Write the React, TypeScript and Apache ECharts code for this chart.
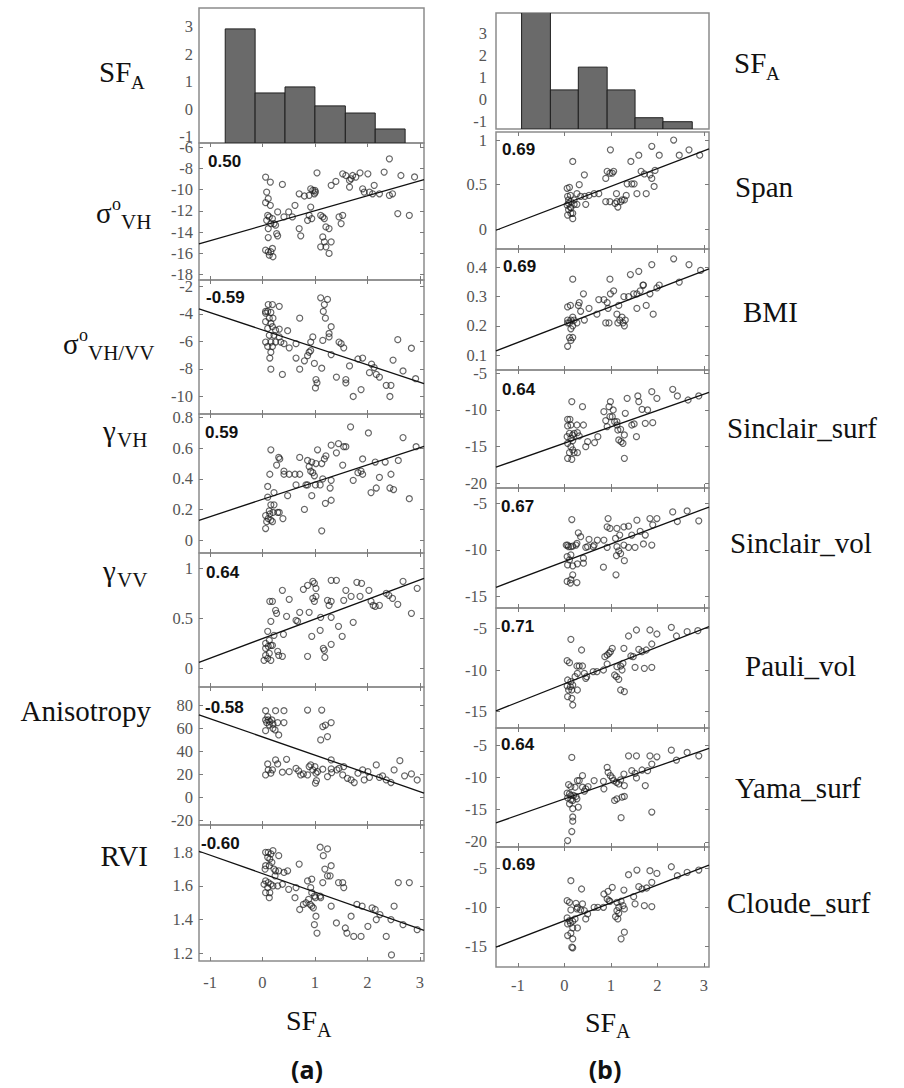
import React, { useEffect, useRef } from "react";
import * as echarts from "echarts";

// ---------- data ----------
const xTicks = [-1, 0, 1, 2, 3];
const histTicks = [-1, 0, 1, 2, 3];
// histogram bins: [x0, x1, top]
const histA = [[-0.71, -0.14, 2.93], [-0.14, 0.43, 0.6], [0.43, 1.0, 0.82], [1.0, 1.58, 0.13], [1.58, 2.15, -0.13], [2.15, 2.72, -0.71]];
const histB = [[-0.92, -0.3, 4.5], [-0.3, 0.3, 0.44], [0.3, 0.92, 1.47], [0.92, 1.52, 0.44], [1.52, 2.12, -0.82], [2.12, 2.75, -1.0]];

const sigmaVH = [[0.06,-8.81],[0.15,-9.28],[0.08,-10.22],[0.11,-10.84],[0.06,-11.22],[0.15,-11.47],[0.10,-12.41],[0.13,-12.56],[0.08,-12.88],[0.19,-12.72],[0.16,-13.19],[0.22,-13.19],[0.25,-13.34],[0.11,-13.66],[0.27,-14.13],[0.29,-14.34],[0.11,-14.5],[0.06,-15.69],[0.11,-15.84],[0.16,-15.84],[0.13,-16.16],[0.20,-16.31],[0.19,-15.53],[0.38,-9.5],[0.29,-12.09],[0.41,-12.56],[0.50,-12.09],[0.57,-12.56],[0.62,-11.47],[0.70,-13.66],[0.73,-14.34],[0.70,-10.38],[0.80,-10.59],[0.89,-10.53],[0.92,-9.91],[0.96,-10.06],[0.99,-10.38],[1.0,-10.06],[1.01,-10.22],[1.04,-8.41],[0.92,-11.63],[0.89,-12.41],[0.94,-12.72],[0.86,-12.88],[1.11,-12.41],[1.15,-12.56],[1.18,-12.72],[1.21,-13.5],[1.27,-13.66],[1.15,-14.44],[1.18,-14.91],[1.11,-15.38],[1.21,-15.38],[1.31,-14.91],[1.27,-16.0],[1.31,-9.59],[1.40,-9.22],[1.53,-8.5],[1.59,-8.66],[1.66,-9.13],[1.69,-8.97],[1.72,-8.66],[1.86,-8.41],[2.01,-8.5],[1.78,-8.81],[1.91,-9.91],[1.94,-10.22],[1.66,-9.75],[1.46,-12.56],[1.53,-12.41],[1.50,-13.19],[2.04,-10.22],[2.10,-10.38],[2.13,-9.59],[2.23,-10.38],[2.32,-8.34],[2.42,-7.09],[2.42,-10.53],[2.48,-10.38],[2.58,-12.25],[2.64,-8.66],[2.80,-12.41],[2.9,-8.8]];
const sigmaVHVV = [[0.06,-3.83],[0.11,-3.33],[0.19,-3.33],[0.32,-3.46],[0.06,-3.95],[0.10,-3.83],[0.16,-3.9],[0.13,-4.32],[0.20,-4.32],[0.06,-4.57],[0.16,-4.69],[0.10,-5.06],[0.19,-4.94],[0.25,-5.19],[0.32,-5.11],[0.48,-5.23],[0.13,-5.56],[0.22,-5.56],[0.32,-5.68],[0.06,-6.05],[0.16,-6.05],[0.25,-6.05],[0.35,-6.05],[0.41,-6.17],[0.10,-6.37],[0.19,-6.37],[0.16,-6.79],[0.14,-7.21],[0.16,-8.02],[0.38,-8.4],[0.51,-6.47],[0.64,-6.17],[0.71,-4.32],[0.64,-7.21],[0.71,-8.02],[0.80,-7.41],[0.86,-7.04],[0.89,-6.79],[0.92,-6.05],[0.96,-5.68],[0.92,-6.67],[0.99,-7.6],[1.13,-7.95],[1.01,-9.38],[1.04,-9.01],[1.02,-8.77],[1.11,-2.84],[1.18,-3.33],[1.24,-2.96],[1.16,-3.83],[1.20,-4.32],[1.31,-4.94],[1.27,-5.43],[1.27,-5.68],[1.15,-5.93],[1.31,-6.96],[1.41,-8.59],[1.46,-6.05],[1.50,-6.17],[1.55,-6.47],[1.59,-8.77],[1.59,-9.01],[1.66,-7.78],[1.73,-10.0],[1.82,-7.28],[1.91,-7.21],[1.88,-9.5],[2.04,-8.27],[2.08,-7.65],[2.13,-7.9],[2.17,-8.4],[2.23,-8.59],[2.36,-9.19],[2.45,-9.19],[2.43,-10.0],[2.49,-7.36],[2.58,-5.88],[2.68,-8.15],[2.84,-6.5],[2.92,-8.71]];
const gammaVH = [[0.06,0.075],[0.08,0.12],[0.11,0.14],[0.06,0.16],[0.14,0.17],[0.16,0.13],[0.19,0.12],[0.13,0.19],[0.16,0.23],[0.22,0.23],[0.20,0.18],[0.29,0.18],[0.32,0.18],[0.39,0.14],[0.10,0.28],[0.10,0.35],[0.14,0.43],[0.16,0.59],[0.31,0.54],[0.33,0.53],[0.27,0.49],[0.22,0.31],[0.41,0.45],[0.41,0.43],[0.51,0.43],[0.62,0.43],[0.71,0.43],[0.48,0.29],[0.64,0.36],[0.71,0.54],[0.80,0.2],[0.83,0.36],[0.86,0.52],[0.89,0.48],[0.94,0.51],[0.92,0.45],[0.96,0.44],[0.99,0.42],[1.01,0.36],[0.94,0.29],[0.86,0.36],[1.05,0.59],[1.02,0.50],[1.10,0.36],[1.13,0.50],[1.18,0.53],[1.21,0.55],[1.20,0.24],[1.31,0.26],[1.29,0.34],[1.31,0.39],[1.15,0.40],[1.13,0.06],[1.31,0.62],[1.41,0.57],[1.45,0.63],[1.55,0.61],[1.59,0.61],[1.53,0.49],[1.68,0.74],[1.73,0.39],[1.82,0.44],[1.88,0.45],[1.91,0.43],[1.91,0.53],[2.02,0.70],[2.07,0.31],[2.17,0.34],[2.23,0.41],[2.15,0.51],[2.34,0.51],[2.45,0.43],[2.43,0.34],[2.50,0.33],[2.59,0.52],[2.68,0.67],[2.80,0.27],[2.93,0.61]];
const gammaVV = [[0.03,0.08],[0.10,0.10],[0.16,0.08],[0.06,0.13],[0.13,0.15],[0.06,0.20],[0.11,0.22],[0.16,0.23],[0.06,0.25],[0.13,0.28],[0.19,0.23],[0.10,0.37],[0.22,0.33],[0.29,0.17],[0.31,0.13],[0.38,0.12],[0.40,0.34],[0.16,0.47],[0.19,0.67],[0.14,0.67],[0.25,0.58],[0.27,0.55],[0.38,0.78],[0.51,0.69],[0.46,0.52],[0.64,0.48],[0.67,0.47],[0.71,0.56],[0.78,0.79],[0.86,0.83],[0.96,0.87],[0.99,0.85],[1.02,0.80],[0.86,0.12],[0.89,0.56],[0.94,0.32],[0.96,0.70],[0.99,0.67],[1.02,0.72],[1.10,0.38],[1.11,0.51],[1.16,0.20],[1.18,0.18],[1.19,0.11],[1.24,0.68],[1.27,0.63],[1.31,0.67],[1.31,0.51],[1.31,0.24],[1.31,0.88],[1.41,0.88],[1.45,0.42],[1.52,0.32],[1.55,0.68],[1.59,0.78],[1.69,0.72],[1.73,0.46],[1.80,0.86],[1.89,0.85],[1.86,0.72],[2.03,0.78],[2.07,0.67],[2.11,0.63],[2.15,0.62],[2.23,0.63],[2.36,0.75],[2.41,0.73],[2.48,0.70],[2.58,0.64],[2.68,0.87],[2.95,0.80],[2.84,0.55]];
const anisotropy = [[0.06,75.6],[0.10,70.4],[0.06,67.5],[0.11,67.5],[0.08,65.2],[0.14,66.0],[0.18,67.5],[0.13,63.1],[0.20,64.0],[0.06,58.2],[0.25,75.6],[0.41,75.6],[0.29,65.2],[0.41,65.2],[0.20,60.2],[0.24,58.8],[0.31,54.4],[0.86,76.2],[1.13,76.2],[1.15,61.7],[1.20,63.1],[1.31,65.2],[1.11,50.1],[1.24,53.0],[0.10,29.1],[0.25,32.6],[0.29,29.1],[0.46,33.2],[0.06,19.5],[0.11,23.9],[0.16,21.0],[0.19,23.9],[0.38,21.9],[0.51,22.4],[0.64,25.3],[0.69,23.0],[0.73,19.5],[0.78,20.4],[0.86,19.5],[0.89,26.8],[0.92,28.3],[0.96,23.9],[1.00,26.8],[1.02,21.0],[1.01,12.3],[1.03,14.6],[1.05,22.4],[1.15,24.5],[1.24,18.1],[1.31,32.6],[1.31,24.8],[1.32,21.6],[1.42,23.9],[1.46,25.3],[1.53,19.5],[1.55,26.8],[1.62,16.6],[1.69,15.2],[1.75,12.9],[1.82,21.0],[1.91,23.9],[1.94,15.2],[2.01,22.4],[2.04,17.4],[2.17,28.3],[2.23,17.4],[2.29,18.7],[2.36,15.2],[2.45,12.9],[2.51,23.9],[2.62,32.0],[2.71,18.7],[2.84,20.4],[2.95,15.1]];
const rvi = [[0.06,1.80],[0.11,1.80],[0.16,1.79],[0.20,1.81],[0.10,1.77],[0.14,1.76],[0.18,1.74],[0.06,1.72],[0.13,1.72],[0.05,1.70],[0.22,1.70],[0.31,1.78],[0.25,1.69],[0.31,1.69],[0.24,1.66],[0.41,1.68],[0.48,1.69],[0.06,1.63],[0.11,1.62],[0.03,1.61],[0.10,1.59],[0.16,1.61],[0.20,1.60],[0.29,1.60],[0.38,1.61],[0.50,1.58],[0.06,1.56],[0.14,1.56],[0.13,1.53],[0.70,1.73],[0.64,1.59],[0.62,1.53],[0.71,1.46],[0.78,1.49],[0.83,1.50],[0.88,1.52],[0.91,1.49],[0.94,1.48],[0.86,1.63],[0.94,1.64],[0.92,1.59],[0.94,1.56],[0.99,1.54],[1.01,1.53],[1.02,1.42],[0.99,1.37],[1.04,1.32],[0.97,1.47],[1.10,1.54],[1.11,1.53],[1.15,1.62],[1.10,1.83],[1.16,1.78],[1.24,1.82],[1.19,1.70],[1.24,1.66],[1.29,1.66],[1.31,1.72],[1.31,1.48],[1.41,1.38],[1.45,1.62],[1.53,1.62],[1.55,1.59],[1.58,1.35],[1.61,1.32],[1.69,1.42],[1.74,1.30],[1.80,1.49],[1.88,1.30],[1.90,1.48],[2.01,1.36],[2.09,1.47],[2.15,1.46],[2.17,1.40],[2.24,1.43],[2.36,1.30],[2.45,1.40],[2.51,1.48],[2.46,1.19],[2.59,1.62],[2.68,1.37],[2.8,1.62],[2.95,1.34]];

const span = [[0.06,0.46],[0.11,0.47],[0.07,0.37],[0.13,0.38],[0.09,0.33],[0.14,0.31],[0.06,0.27],[0.13,0.25],[0.09,0.22],[0.14,0.18],[0.07,0.16],[0.18,0.18],[0.18,0.12],[0.21,0.28],[0.27,0.28],[0.18,0.76],[0.27,0.40],[0.32,0.50],[0.43,0.61],[0.35,0.37],[0.44,0.37],[0.46,0.28],[0.53,0.38],[0.64,0.40],[0.74,0.40],[0.89,0.57],[0.99,0.89],[0.92,0.65],[0.98,0.63],[1.03,0.63],[1.06,0.65],[0.89,0.31],[0.98,0.31],[1.12,0.40],[1.15,0.25],[1.21,0.31],[1.24,0.33],[1.29,0.33],[1.33,0.38],[1.35,0.51],[1.45,0.51],[1.50,0.51],[1.56,0.40],[1.43,0.76],[1.60,0.83],[1.65,0.65],[1.72,0.62],[1.76,0.40],[1.84,0.61],[1.88,0.93],[1.93,0.48],[1.88,0.57],[2.04,0.83],[1.95,0.66],[2.35,1.00],[2.47,0.83],[2.68,0.89],[2.91,0.83],[1.13,0.31],[1.09,0.29],[0.14,0.24],[0.09,0.29],[0.21,0.33]];
const bmi = [[0.18,0.36],[0.98,0.36],[1.42,0.376],[1.60,0.387],[1.88,0.41],[2.35,0.43],[2.68,0.41],[2.93,0.39],[2.47,0.35],[1.70,0.34],[2.04,0.34],[0.07,0.265],[0.13,0.27],[0.32,0.28],[0.30,0.27],[0.41,0.31],[0.18,0.23],[0.07,0.22],[0.11,0.21],[0.14,0.22],[0.07,0.21],[0.18,0.20],[0.27,0.21],[0.21,0.22],[0.14,0.19],[0.18,0.16],[0.14,0.15],[0.07,0.13],[0.11,0.16],[0.35,0.25],[0.43,0.22],[0.53,0.26],[0.70,0.24],[0.85,0.29],[0.89,0.21],[0.92,0.28],[0.96,0.21],[0.99,0.31],[1.06,0.32],[1.13,0.24],[1.17,0.27],[1.15,0.21],[1.19,0.22],[1.24,0.23],[1.26,0.21],[1.29,0.20],[1.31,0.22],[1.28,0.30],[1.38,0.30],[1.49,0.31],[1.56,0.31],[1.63,0.32],[1.69,0.34],[1.56,0.26],[1.76,0.27],[1.84,0.31],[1.91,0.24],[1.99,0.33],[0.94,0.26],[0.74,0.29]];
const sinclairSurf = [[0.16,-8.86],[0.39,-9.55],[0.07,-11.27],[0.12,-11.27],[0.07,-12.18],[0.14,-12.05],[0.27,-12.05],[0.41,-12.05],[0.11,-13.18],[0.06,-13.64],[0.14,-13.86],[0.18,-13.41],[0.21,-13.18],[0.28,-13.09],[0.32,-13.55],[0.18,-14.18],[0.07,-14.55],[0.14,-15.0],[0.18,-15.45],[0.11,-15.82],[0.21,-15.82],[0.07,-16.59],[0.16,-16.73],[0.28,-15.82],[0.46,-15.0],[0.50,-14.32],[0.65,-14.45],[0.72,-13.64],[0.85,-10.23],[0.89,-11.45],[0.92,-12.27],[0.96,-9.55],[0.98,-10.91],[0.99,-8.86],[1.05,-10.0],[1.08,-11.59],[1.13,-12.05],[1.15,-12.73],[1.21,-12.64],[1.17,-14.09],[1.22,-14.32],[1.26,-14.55],[1.29,-13.41],[1.29,-16.59],[1.31,-10.45],[1.35,-8.41],[1.45,-12.05],[1.50,-11.91],[1.55,-13.64],[1.58,-8.09],[1.60,-8.86],[1.67,-9.91],[1.74,-11.82],[1.79,-10.0],[1.88,-7.5],[1.90,-11.73],[1.99,-8.41],[2.33,-7.18],[2.43,-8.09],[2.66,-8.64],[2.89,-8.09],[1.03,-10.91],[1.13,-11.59]];
const sinclairVol = [[0.16,-6.74],[0.30,-8.16],[0.35,-8.58],[0.53,-8.86],[0.71,-8.94],[0.92,-7.52],[0.94,-6.63],[0.98,-7.69],[1.13,-7.69],[1.10,-8.76],[1.19,-8.40],[1.28,-7.52],[1.38,-7.45],[1.45,-8.40],[1.56,-6.81],[1.63,-8.0],[1.74,-8.40],[1.84,-6.63],[1.90,-7.31],[1.99,-6.63],[2.33,-5.92],[2.43,-6.95],[2.64,-5.82],[2.89,-6.88],[0.07,-9.47],[0.14,-9.65],[0.25,-9.47],[0.46,-9.72],[0.64,-9.47],[0.85,-8.94],[1.13,-9.65],[1.28,-9.47],[1.38,-9.72],[1.52,-9.72],[1.70,-9.36],[1.88,-9.47],[0.04,-9.47],[0.09,-9.65],[0.18,-9.58],[0.27,-9.29],[0.06,-10.71],[0.14,-10.53],[0.11,-11.06],[0.07,-11.6],[0.18,-11.7],[0.28,-11.49],[0.41,-10.88],[0.41,-11.42],[0.18,-12.66],[0.14,-13.19],[0.06,-13.37],[0.13,-13.55],[0.27,-13.49],[0.50,-9.65],[0.62,-9.65],[0.84,-11.84],[0.92,-9.72],[1.12,-10.6],[1.17,-10.1],[1.21,-10.39],[1.29,-11.15],[1.11,-12.66]];
const pauliVol = [[0.14,-6.32],[0.37,-7.6],[0.06,-8.88],[0.11,-9.12],[0.27,-9.52],[0.32,-9.52],[0.39,-9.52],[0.07,-11.2],[0.14,-11.4],[0.06,-11.92],[0.13,-12.0],[0.18,-11.8],[0.09,-12.4],[0.16,-12.4],[0.07,-13.2],[0.16,-13.4],[0.18,-14.2],[0.28,-12.4],[0.23,-10.8],[0.28,-10.4],[0.43,-10.4],[0.46,-11.0],[0.48,-10.8],[0.62,-10.2],[0.70,-10.2],[0.84,-10.0],[0.87,-8.4],[0.92,-8.2],[0.96,-8.0],[0.99,-7.8],[1.03,-7.4],[0.92,-9.28],[1.08,-10.6],[1.12,-10.8],[1.17,-11.12],[1.13,-9.6],[1.21,-9.52],[1.24,-10.0],[1.26,-9.2],[1.21,-12.4],[1.29,-12.6],[1.28,-7.4],[1.38,-5.92],[1.43,-8.32],[1.48,-8.4],[1.52,-9.68],[1.55,-5.2],[1.60,-7.52],[1.67,-7.8],[1.72,-9.8],[1.84,-5.2],[1.88,-6.88],[1.88,-9.68],[1.99,-5.68],[2.30,-4.88],[2.41,-5.92],[2.64,-5.4],[2.87,-5.28],[1.76,-7.6]];
const yamaSurf = [[0.16,-6.92],[0.39,-9.74],[0.28,-10.51],[0.32,-10.51],[0.09,-11.13],[0.14,-11.44],[0.23,-11.54],[0.39,-11.54],[0.46,-11.79],[0.51,-11.44],[0.43,-12.15],[0.06,-12.46],[0.11,-12.56],[0.14,-12.82],[0.20,-12.82],[0.25,-12.97],[0.07,-13.18],[0.14,-13.49],[0.18,-13.59],[0.27,-13.33],[0.11,-14.1],[0.18,-14.87],[0.30,-14.62],[0.18,-16.15],[0.64,-10.51],[0.84,-10.62],[0.85,-11.79],[0.92,-8.46],[0.94,-9.23],[0.99,-9.74],[1.03,-10.1],[1.06,-10.51],[1.12,-10.77],[1.17,-11.03],[1.08,-13.59],[1.13,-13.33],[1.24,-13.08],[1.29,-12.97],[1.21,-10.41],[1.28,-9.49],[1.29,-11.28],[1.22,-16.26],[1.38,-6.67],[1.45,-8.97],[1.52,-9.38],[1.55,-6.67],[1.55,-10.1],[1.67,-8.87],[1.74,-11.28],[1.79,-8.97],[1.84,-6.67],[1.88,-7.95],[1.88,-15.38],[1.99,-6.82],[2.30,-5.79],[2.41,-7.33],[2.64,-6.15],[2.89,-6.67],[0.18,-16.8],[0.16,-18.4],[0.07,-19.8]];
const cloudeSurf = [[0.14,-6.6],[0.37,-7.66],[0.06,-9.15],[0.11,-9.36],[0.25,-9.49],[0.28,-10.0],[0.39,-9.57],[0.14,-10.34],[0.27,-10.21],[0.35,-10.34],[0.43,-10.43],[0.50,-10.85],[0.46,-11.49],[0.06,-11.36],[0.11,-11.7],[0.07,-12.13],[0.13,-12.04],[0.18,-11.79],[0.23,-11.49],[0.07,-13.62],[0.14,-13.32],[0.18,-14.04],[0.28,-12.64],[0.18,-12.64],[0.16,-15.11],[0.18,-15.19],[0.64,-10.0],[0.72,-10.0],[0.84,-10.0],[0.85,-8.3],[0.92,-8.94],[0.96,-9.15],[0.98,-9.23],[0.94,-7.96],[1.03,-7.45],[1.13,-9.36],[1.17,-10.0],[1.13,-10.43],[1.10,-11.19],[1.15,-11.49],[1.17,-10.77],[1.22,-9.23],[1.26,-9.79],[1.29,-10.21],[1.28,-7.79],[1.22,-14.04],[1.29,-13.19],[1.38,-5.83],[1.49,-8.64],[1.52,-9.57],[1.56,-5.23],[1.60,-7.36],[1.67,-7.66],[1.72,-9.79],[1.77,-7.53],[1.84,-5.32],[1.88,-6.81],[1.88,-9.91],[1.99,-5.66],[2.30,-4.81],[2.43,-5.96],[2.64,-5.53],[2.89,-5.23]];

// fitted lines (end points)
const fitSigmaVH = [[-1.21, -15.1], [3.08, -9.05]];
const fitSigmaVHVV = [[-1.21, -3.64], [3.08, -9.07]];
const fitGammaVH = [[-1.21, 0.129], [3.08, 0.613]];
const fitGammaVV = [[-1.21, 0.06], [3.08, 0.9]];
const fitAnisotropy = [[-1.21, 72], [3.08, 3.7]];
const fitRvi = [[-1.21, 1.806], [3.08, 1.336]];
const fitSpan = [[-1.47, -0.01], [3.11, 0.9]];
const fitBmi = [[-1.47, 0.114], [3.11, 0.395]];
const fitSinclairSurf = [[-1.47, -17.8], [3.11, -7.6]];
const fitSinclairVol = [[-1.47, -14.0], [3.11, -5.4]];
const fitPauliVol = [[-1.47, -14.9], [3.11, -4.8]];
const fitYamaSurf = [[-1.47, -17.06], [3.11, -5.5]];
const fitCloudeSurf = [[-1.47, -15.1], [3.11, -4.6]];

// y tick labels
const ticksSigmaVH = [-18, -16, -14, -12, -10, -8, -6];
const ticksSigmaVHVV = [-10, -8, -6, -4, -2];
const ticksGammaVH = [0, 0.2, 0.4, 0.6, 0.8];
const ticksGammaVV = [0, 0.5, 1];
const ticksAnisotropy = [-20, 0, 20, 40, 60, 80];
const ticksRvi = [1.2, 1.4, 1.6, 1.8];
const ticksSpan = [0, 0.5, 1];
const ticksBmi = [0.1, 0.2, 0.3, 0.4];
const ticksSinclairSurf = [-20, -15, -10, -5];
const ticksSinclairVol = [-15, -10, -5];
const ticksPauliVol = [-15, -10, -5];
const ticksYamaSurf = [-20, -15, -10, -5];
const ticksCloudeSurf = [-15, -10, -5];

const corrA = ["0.50", "-0.59", "0.59", "0.64", "-0.58", "-0.60"];
const corrB = ["0.69", "0.69", "0.64", "0.67", "0.71", "0.64", "0.69"];

// ---------- layout ----------
const colA = { left: 199, width: 225, xmin: -1.21, xmax: 3.08, yMargin: 6, xMargin: 13 };
const colB = { left: 496, width: 213, xmin: -1.47, xmax: 3.11, yMargin: 9, xMargin: 10 };
const histLayoutA = { top: 8, h: 135, min: -1.22, max: 3.69 };
const histLayoutB = { top: 13, h: 116, min: -1.33, max: 3.92 };
const panelsA = [
  { data: sigmaVH, fit: fitSigmaVH, ticks: ticksSigmaVH, top: 143, h: 137, min: -18.5, max: -5.6, cx: 208, cb: 167 },
  { data: sigmaVHVV, fit: fitSigmaVHVV, ticks: ticksSigmaVHVV, top: 280, h: 134, min: -11.27, max: -1.55, cx: 206, cb: 303 },
  { data: gammaVH, fit: fitGammaVH, ticks: ticksGammaVH, top: 414, h: 139, min: -0.085, max: 0.824, cx: 205, cb: 438 },
  { data: gammaVV, fit: fitGammaVV, ticks: ticksGammaVV, top: 553, h: 134, min: -0.187, max: 1.153, cx: 206, cb: 578 },
  { data: anisotropy, fit: fitAnisotropy, ticks: ticksAnisotropy, top: 687, h: 138, min: -24.2, max: 96.3, cx: 205, cb: 713 },
  { data: rvi, fit: fitRvi, ticks: ticksRvi, top: 825, h: 136, min: 1.154, max: 1.962, cx: 201, cb: 849 },
];
const panelsB = [
  { data: span, fit: fitSpan, ticks: ticksSpan, top: 132, h: 117, min: -0.22, max: 1.09, cx: 502, cb: 155 },
  { data: bmi, fit: fitBmi, ticks: ticksBmi, top: 249, h: 121, min: 0.0486, max: 0.4635, cx: 503, cb: 272 },
  { data: sinclairSurf, fit: fitSinclairSurf, ticks: ticksSinclairSurf, top: 370, h: 118, min: -20.64, max: -4.55, cx: 502, cb: 395 },
  { data: sinclairVol, fit: fitSinclairVol, ticks: ticksSinclairVol, top: 488, h: 120, min: -16.22, max: -3.36, cx: 501, cb: 512 },
  { data: pauliVol, fit: fitPauliVol, ticks: ticksPauliVol, top: 608, h: 120, min: -16.96, max: -2.56, cx: 501, cb: 632 },
  { data: yamaSurf, fit: fitYamaSurf, ticks: ticksYamaSurf, top: 728, h: 119, min: -20.8, max: -2.36, cx: 501, cb: 750 },
  { data: cloudeSurf, fit: fitCloudeSurf, ticks: ticksCloudeSurf, top: 847, h: 120, min: -17.65, max: -2.28, cx: 502, cb: 870 },
];

const FRAME = "#8c8c8c";
const SERIF = "'Liberation Serif', 'Times New Roman', serif";
const SANS = "'Liberation Sans', Arial, sans-serif";
const tickLabel = { fontFamily: SERIF, fontSize: 16.5, color: "#555" };
const tickLine = { show: true, inside: true, length: 4, lineStyle: { color: "#7a7a7a", width: 1 } };
const noLine = { show: false, onZero: false };
const MAIN = 29;
const SUB = 20;

function txt(text: string, x: number, baseline: number, size: number, extra: any = {}) {
  return {
    type: "text",
    x,
    y: baseline - 0.34 * size,
    silent: true,
    style: {
      text,
      fontSize: size,
      fontFamily: extra.fontFamily || SERIF,
      fontWeight: extra.fontWeight || "normal",
      fill: extra.fill || "#111",
      align: extra.align || "left",
      verticalAlign: "middle",
    },
  };
}

function buildOption() {
  const grid: any[] = [];
  const xAxis: any[] = [];
  const yAxis: any[] = [];
  const series: any[] = [];
  const graphic: any[] = [];

  const addHist = (col: any, hl: any, bins: number[][]) => {
    const gi = grid.length;
    grid.push({ left: col.left, top: hl.top, width: col.width, height: hl.h, show: true, borderColor: FRAME, borderWidth: 1.5, backgroundColor: "#fff" });
    const xi = xAxis.length;
    xAxis.push({ gridIndex: gi, type: "value", min: col.xmin, max: col.xmax, axisLine: noLine, axisTick: { show: false }, axisLabel: { show: false }, splitLine: { show: false } });
    const yi = yAxis.length;
    yAxis.push({ gridIndex: gi, type: "value", position: "left", min: hl.min, max: hl.max, axisLine: noLine, axisTick: { show: false }, splitLine: { show: false },
      axisLabel: { show: true, customValues: histTicks, margin: col.yMargin, ...tickLabel } });
    const base = hl.min;
    series.push({
      type: "custom", xAxisIndex: xi, yAxisIndex: yi, clip: true, silent: true, data: bins,
      encode: { x: [0, 1], y: 2 },
      renderItem: (_p: any, api: any) => {
        const a = api.coord([api.value(0), api.value(2)]);
        const b = api.coord([api.value(1), base]);
        return { type: "rect", shape: { x: a[0], y: a[1], width: b[0] - a[0], height: b[1] - a[1] }, style: { fill: "#6a6a6a", stroke: "#1f1f1f", lineWidth: 1 } };
      },
    });
  };

  const addPanel = (col: any, p: any, last: boolean) => {
    const gi = grid.length;
    grid.push({ left: col.left, top: p.top, width: col.width, height: p.h, show: true, borderColor: FRAME, borderWidth: 1.5, backgroundColor: "transparent" });
    const xi = xAxis.length;
    xAxis.push({ gridIndex: gi, type: "value", position: "bottom", min: col.xmin, max: col.xmax, axisLine: noLine, splitLine: { show: false },
      axisTick: { ...tickLine, customValues: xTicks },
      axisLabel: { show: last, customValues: xTicks, margin: col.xMargin, ...tickLabel } });
    xAxis.push({ gridIndex: gi, type: "value", position: "top", min: col.xmin, max: col.xmax, axisLine: noLine, splitLine: { show: false },
      axisTick: { ...tickLine, customValues: xTicks }, axisLabel: { show: false } });
    const yi = yAxis.length;
    yAxis.push({ gridIndex: gi, type: "value", position: "left", min: p.min, max: p.max, axisLine: noLine, splitLine: { show: false },
      axisTick: { ...tickLine, customValues: p.ticks },
      axisLabel: { show: true, customValues: p.ticks, margin: col.yMargin, ...tickLabel } });
    yAxis.push({ gridIndex: gi, type: "value", position: "right", min: p.min, max: p.max, axisLine: noLine, splitLine: { show: false },
      axisTick: { ...tickLine, customValues: p.ticks }, axisLabel: { show: false } });
    series.push({
      type: "scatter", xAxisIndex: xi, yAxisIndex: yi, data: p.data, symbol: "circle", symbolSize: 6, silent: true, clip: true,
      itemStyle: { color: "rgba(255,255,255,0)", borderColor: "rgba(30,30,30,0.85)", borderWidth: 1.2 },
    });
    series.push({
      type: "line", xAxisIndex: xi, yAxisIndex: yi, data: p.fit, symbol: "none", silent: true, clip: true,
      lineStyle: { color: "#111", width: 1.3 },
    });
  };

  addHist(colA, histLayoutA, histA);
  panelsA.forEach((p, i) => addPanel(colA, p, i === panelsA.length - 1));
  addHist(colB, histLayoutB, histB);
  panelsB.forEach((p, i) => addPanel(colB, p, i === panelsB.length - 1));

  // correlation coefficients
  panelsA.forEach((p, i) => graphic.push(txt(corrA[i], p.cx, p.cb, 17, { fontFamily: SANS, fontWeight: "bold" })));
  panelsB.forEach((p, i) => graphic.push(txt(corrB[i], p.cx, p.cb, 17, { fontFamily: SANS, fontWeight: "bold" })));

  // left variable names
  graphic.push(txt("SF", 99, 82, MAIN), txt("A", 131, 89, SUB - 1));
  graphic.push(txt("σ", 96, 223, MAIN), txt("o", 112, 210, 18), txt("VH", 121, 229, SUB + 1));
  graphic.push(txt("σ", 63, 354, MAIN), txt("o", 79, 341, 18), txt("VH/VV", 88, 360, SUB + 1));
  graphic.push(txt("γ", 103, 441, MAIN), txt("VH", 117, 447, SUB + 1));
  graphic.push(txt("γ", 103, 581, MAIN), txt("VV", 117, 587, SUB + 1));
  graphic.push(txt("Anisotropy", 151, 721, MAIN, { align: "right" }));
  graphic.push(txt("RVI", 148, 866, MAIN, { align: "right" }));

  // right variable names
  graphic.push(txt("SF", 734, 73, MAIN), txt("A", 766, 80, SUB - 1));
  graphic.push(txt("Span", 735, 197, MAIN));
  graphic.push(txt("BMI", 743, 322, MAIN));
  graphic.push(txt("Sinclair_surf", 727, 438, MAIN));
  graphic.push(txt("Sinclair_vol", 730, 553, MAIN));
  graphic.push(txt("Pauli_vol", 745, 676, MAIN));
  graphic.push(txt("Yama_surf", 735, 798, MAIN));
  graphic.push(txt("Cloude_surf", 727, 913, MAIN));

  // x titles and panel letters
  graphic.push(txt("SF", 286, 1030, 28), txt("A", 317, 1037, SUB));
  graphic.push(txt("SF", 585, 1032, 28), txt("A", 616, 1038, SUB));
  graphic.push(txt("(a)", 307, 1077, 25, { fontFamily: "'Open Sans', sans-serif", fontWeight: "bold", align: "center" }));
  graphic.push(txt("(b)", 605, 1077, 25, { fontFamily: "'Open Sans', sans-serif", fontWeight: "bold", align: "center" }));

  return { animation: false, backgroundColor: "#fff", grid, xAxis, yAxis, series, graphic };
}

export default function App() {
  const ref = useRef<HTMLDivElement>(null);
  useEffect(() => {
    if (!ref.current) return;
    const chart = echarts.init(ref.current, undefined, { renderer: "svg" });
    chart.setOption(buildOption() as any);
    return () => chart.dispose();
  }, []);
  return <div ref={ref} style={{ position: "absolute", left: 0, top: 0, width: 904, height: 1088, background: "#fff" }} />;
}
